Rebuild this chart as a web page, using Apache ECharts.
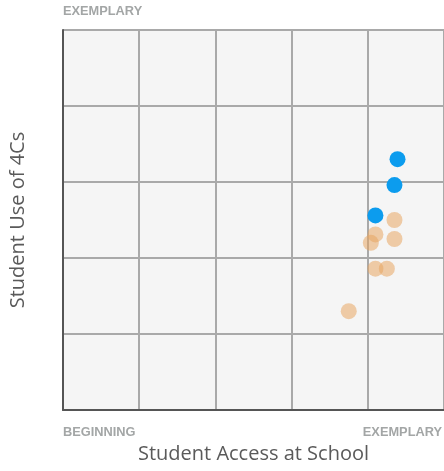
<!DOCTYPE html>
<html><head><meta charset="utf-8">
<script src="https://cdn.jsdelivr.net/npm/echarts@6/dist/echarts.min.js"></script>
<style>html,body{margin:0;padding:0;background:#fff}#c{width:444px;height:471px}</style>
</head><body><div id="c"></div>
<script>
const xAxisTitle = 'Student Access at School';
const yAxisTitle = 'Student Use of 4Cs';
const xTickLabels = ['BEGINNING', 'EXEMPLARY'];
const yTickLabels = ['EXEMPLARY'];
const blueX = [4.39, 4.35, 4.10];
const blueY = [3.30, 2.96, 2.56];
const orangeX = [4.35, 4.10, 4.04, 4.35, 4.10, 4.25, 3.75];
const orangeY = [2.50, 2.31, 2.20, 2.25, 1.86, 1.86, 1.30];

const chart = echarts.init(document.getElementById('c'), null, {renderer: 'canvas'});
const font = '"Open Sans", sans-serif';
const capFont = 'bold 12.8px "Liberation Sans", Arial, sans-serif';
chart.setOption({
  animation: false,
  grid: {left: 63, right: 0, top: 30, bottom: 61, show: true, backgroundColor: '#f5f5f5', borderWidth: 0, outerBoundsMode: 'none', containLabel: false},
  xAxis: {
    type: 'value', min: 0, max: 5, interval: 1,
    axisLine: {show: true, lineStyle: {color: '#555', width: 2}},
    axisTick: {show: false}, axisLabel: {show: false},
    splitLine: {show: true, lineStyle: {color: '#a9a9a9', width: 2}},
    name: xAxisTitle, nameLocation: 'middle', nameGap: 34,
    nameTextStyle: {fontFamily: font, fontSize: 20, color: '#5a5a5a'}
  },
  yAxis: {
    type: 'value', min: 0, max: 5, interval: 1,
    axisLine: {show: true, lineStyle: {color: '#555', width: 2}},
    axisTick: {show: false}, axisLabel: {show: false},
    splitLine: {show: true, lineStyle: {color: '#a9a9a9', width: 2}},
    name: yAxisTitle, nameLocation: 'middle', nameGap: 35,
    nameTextStyle: {fontFamily: font, fontSize: 20, color: '#5a5a5a'}
  },
  graphic: [
    {type: 'text', left: 63, top: 5, style: {text: yTickLabels[0], font: capFont, fill: '#a3a6a6'}},
    {type: 'text', left: 63, top: 426, style: {text: xTickLabels[0], font: capFont, fill: '#a3a6a6'}},
    {type: 'text', right: 2, top: 426, style: {text: xTickLabels[1], font: capFont, fill: '#a3a6a6'}}
  ],
  series: [
    {type: 'scatter', symbolSize: 16, data: orangeX.map((x, i) => [x, orangeY[i]]),
     itemStyle: {color: '#e8a563', opacity: 0.55}},
    {type: 'scatter', symbolSize: 16, data: blueX.map((x, i) => [x, blueY[i]]),
     itemStyle: {color: '#0c9cee', opacity: 1}}
  ]
});
</script></body></html>
